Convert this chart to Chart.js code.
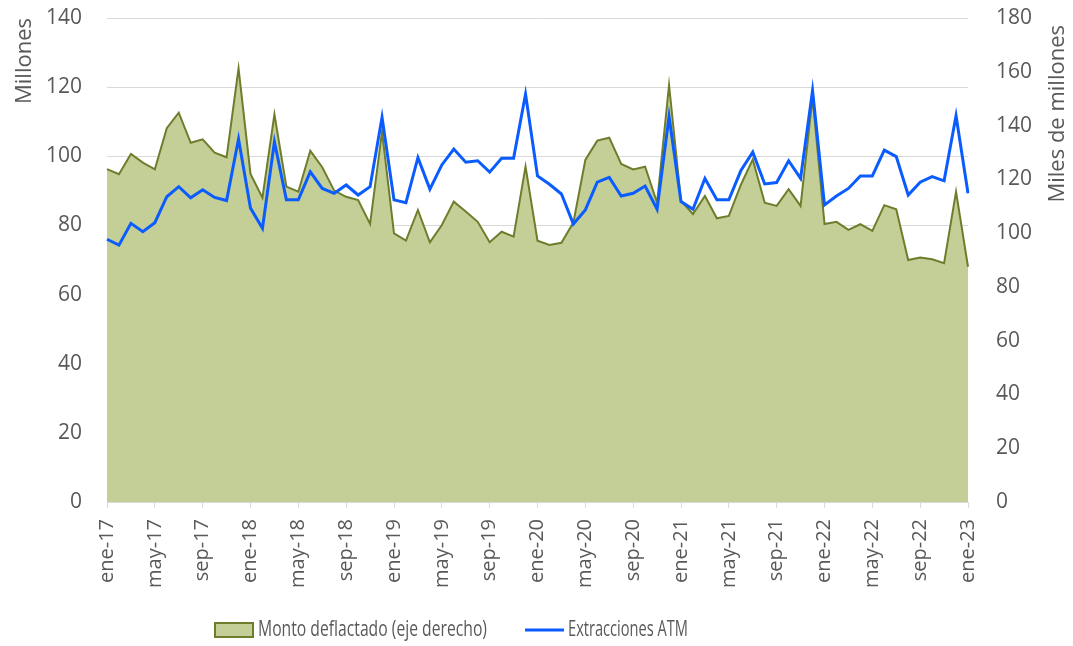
<!DOCTYPE html>
<html lang="es">
<head>
<meta charset="UTF-8">
<title>Monto deflactado y extracciones ATM</title>
<script src="https://cdn.jsdelivr.net/npm/chart.js"></script>
<style>
  html, body { margin: 0; padding: 0; background: #fff; }
  .chart-box { width: 1073px; height: 646px; }
</style>
</head>
<body>
<div class="chart-box"><canvas id="chart"></canvas></div>
<script>
  const meses = [
    "ene-17","feb-17","mar-17","abr-17","may-17","jun-17","jul-17","ago-17","sep-17","oct-17","nov-17","dic-17",
    "ene-18","feb-18","mar-18","abr-18","may-18","jun-18","jul-18","ago-18","sep-18","oct-18","nov-18","dic-18",
    "ene-19","feb-19","mar-19","abr-19","may-19","jun-19","jul-19","ago-19","sep-19","oct-19","nov-19","dic-19",
    "ene-20","feb-20","mar-20","abr-20","may-20","jun-20","jul-20","ago-20","sep-20","oct-20","nov-20","dic-20",
    "ene-21","feb-21","mar-21","abr-21","may-21","jun-21","jul-21","ago-21","sep-21","oct-21","nov-21","dic-21",
    "ene-22","feb-22","mar-22","abr-22","may-22","jun-22","jul-22","ago-22","sep-22","oct-22","nov-22","dic-22",
    "ene-23"
  ];

  // Extracciones ATM (millones, eje izquierdo)
  const extracciones = [
    76.0, 74.3, 80.6, 78.2, 80.8, 88.3, 91.2, 88.0, 90.3, 88.1, 87.2, 105.0,
    85.0, 79.2, 104.2, 87.4, 87.4, 95.5, 90.7, 89.3, 91.7, 88.8, 91.2, 111.3,
    87.4, 86.6, 99.6, 90.5, 97.5, 102.1, 98.3, 98.7, 95.4, 99.4, 99.4, 118.0,
    94.3, 91.9, 89.1, 80.4, 84.5, 92.5, 93.9, 88.5, 89.3, 91.4, 84.7, 111.5,
    86.9, 84.7, 93.6, 87.4, 87.4, 95.8, 101.2, 92.0, 92.4, 98.7, 93.6, 119.0,
    85.9, 88.5, 90.7, 94.3, 94.3, 101.8, 99.9, 88.8, 92.5, 94.1, 92.9, 111.7,
    89.3
  ];

  // Monto deflactado (miles de millones, eje derecho)
  const montoDeflactado = [
    123.8, 121.9, 129.4, 126.2, 123.7, 139.0, 144.8, 133.6, 134.9, 129.9, 128.2, 161.3,
    122.0, 113.2, 144.2, 117.3, 115.4, 130.6, 124.5, 115.8, 113.5, 112.3, 103.4, 137.7,
    99.9, 97.2, 108.6, 96.6, 103.0, 111.7, 108.0, 104.2, 96.6, 100.5, 98.7, 124.7,
    97.2, 95.6, 96.4, 103.9, 127.2, 134.4, 135.5, 125.7, 123.7, 124.7, 111.3, 155.1,
    112.0, 107.1, 113.8, 105.5, 106.4, 117.9, 127.4, 111.3, 110.1, 116.3, 110.1, 150.5,
    103.4, 104.2, 101.2, 103.3, 100.8, 110.4, 108.9, 90.0, 90.9, 90.3, 88.8, 115.4,
    87.5
  ];

  const texto = "#595959";
  const rejilla = "#d9d9d9";
  const azul = "#0b5cff";
  const verdeRelleno = "#c4cf97";
  const verdeBorde = "#6e7d2c";
  const fuente = "'Open Sans', sans-serif";

  // texto estrecho, como en el original
  function textoEstrecho(ctx, str, x, y, ancho) {
    const w = ctx.measureText(str).width;
    ctx.save();
    ctx.translate(x, y);
    ctx.scale(ancho / w, 1);
    ctx.fillText(str, 0, 0);
    ctx.restore();
  }

  // leyenda inferior y título del eje derecho (leído de abajo hacia arriba)
  const leyendaPlugin = {
    id: "leyendaPlugin",
    afterDraw(chart) {
      const ctx = chart.ctx;
      const y = 630;
      ctx.save();
      ctx.font = "22px " + fuente;
      ctx.textBaseline = "middle";

      ctx.fillStyle = verdeRelleno;
      ctx.fillRect(215, y - 7, 38, 14);
      ctx.strokeStyle = verdeBorde;
      ctx.lineWidth = 2;
      ctx.strokeRect(215, y - 7, 38, 14);
      ctx.fillStyle = texto;
      textoEstrecho(ctx, chart.data.datasets[1].label, 258, y, 229);

      ctx.strokeStyle = azul;
      ctx.lineWidth = 3;
      ctx.beginPath();
      ctx.moveTo(525, y);
      ctx.lineTo(564, y);
      ctx.stroke();
      textoEstrecho(ctx, chart.data.datasets[0].label, 568, y, 120);

      const der = chart.scales.y1;
      ctx.font = "22px " + fuente;
      ctx.translate(der.right - 15, chart.chartArea.top + 7);
      ctx.rotate(-Math.PI / 2);
      ctx.textAlign = "right";
      ctx.fillText("Miles de millones", 0, 0);
      ctx.restore();
    }
  };

  new Chart(document.getElementById("chart"), {
    data: {
      labels: meses,
      datasets: [
        {
          type: "line",
          label: "Extracciones ATM",
          data: extracciones,
          yAxisID: "y",
          borderColor: azul,
          borderWidth: 3,
          pointRadius: 0,
          tension: 0,
          fill: false
        },
        {
          type: "line",
          label: "Monto deflactado (eje derecho)",
          data: montoDeflactado,
          yAxisID: "y1",
          borderColor: verdeBorde,
          backgroundColor: verdeRelleno,
          borderWidth: 2,
          pointRadius: 0,
          tension: 0,
          fill: "origin"
        }
      ]
    },
    options: {
      responsive: true,
      maintainAspectRatio: false,
      animation: false,
      layout: { padding: { top: 18, left: 0, right: 0, bottom: 0 } },
      plugins: {
        legend: { display: false },
        tooltip: { enabled: false }
      },
      scales: {
        x: {
          type: "category",
          offset: false,
          afterFit: s => { s.height = 144; },
          grid: {
            drawOnChartArea: false,
            tickLength: 6,
            color: c => (c.index % 4 === 0 ? rejilla : "rgba(0,0,0,0)")
          },
          border: { color: rejilla, width: 1 },
          ticks: {
            autoSkip: false,
            maxRotation: 90,
            minRotation: 90,
            padding: 11,
            color: texto,
            font: { family: fuente, size: 20 },
            callback: (v, i) => (i % 4 === 0 ? meses[i] : "")
          }
        },
        y: {
          position: "left",
          min: 0,
          max: 140,
          afterFit: s => { s.width = 107; },
          ticks: { stepSize: 20, padding: 2, color: texto, font: { family: fuente, size: 21 } },
          grid: { color: rejilla, lineWidth: 1, drawTicks: true, tickLength: 23, tickColor: "rgba(0,0,0,0)" },
          border: { display: false },
          title: {
            display: true,
            text: "Millones",
            align: "end",
            color: texto,
            font: { family: fuente, size: 22 },
            padding: { top: 12, bottom: 0 }
          }
        },
        y1: {
          position: "right",
          min: 0,
          max: 180,
          afterFit: s => { s.width = 105; },
          ticks: { stepSize: 20, padding: 2, color: texto, font: { family: fuente, size: 21 } },
          grid: { drawOnChartArea: false, drawTicks: true, tickLength: 26, tickColor: "rgba(0,0,0,0)" },
          border: { display: false }
        }
      }
    },
    plugins: [leyendaPlugin]
  });
</script>
</body>
</html>
